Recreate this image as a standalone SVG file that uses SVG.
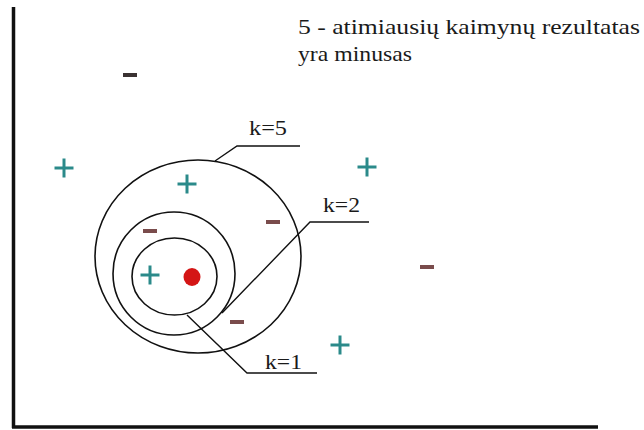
<svg xmlns="http://www.w3.org/2000/svg" width="644" height="430" viewBox="0 0 644 430">
<style>
  .ring { fill: none; stroke: #111; stroke-width: 1.6; }
  .lead { fill: none; stroke: #111; stroke-width: 1.4; }
  .axis { fill: none; stroke: #111; stroke-width: 3.5; }
  .plus { stroke: #2b8a8a; stroke-width: 3; fill: none; }
  .minus { fill: #7a4c4c; }
</style>
<defs>
  <g id="p"><line class="plus" x1="-9.5" y1="0" x2="9.5" y2="0"/><line class="plus" x1="0" y1="-9.5" x2="0" y2="9.5"/></g>
  <rect id="m" x="-7" y="-2" width="14" height="4"/>
</defs>
<rect width="644" height="430" fill="#ffffff"/>
<g id="axes">
  <line class="axis" x1="13.5" y1="7" x2="13.5" y2="428"/>
  <line class="axis" x1="12" y1="427" x2="598" y2="427"/>
</g>
<g id="title" font-family="Liberation Serif, DejaVu Serif, serif" font-size="22" fill="#1a1a1a">
  <text x="298" y="34" textLength="342" lengthAdjust="spacingAndGlyphs">5 - atimiausių kaimynų rezultatas</text>
  <text x="298" y="61" textLength="114" lengthAdjust="spacingAndGlyphs">yra minusas</text>
</g>
<g id="rings">
  <ellipse id="ring5" class="ring" cx="198" cy="256.5" rx="103" ry="96.5"/>
  <ellipse id="ring2" class="ring" cx="174" cy="273.5" rx="61" ry="61.5"/>
  <ellipse id="ring1" class="ring" cx="174.5" cy="276.5" rx="42.5" ry="38.5"/>
</g>
<g id="connectors">
  <polyline class="lead" points="215,161 237,146 300,146"/>
  <polyline class="lead" points="222,313 310,222 369,222"/>
  <polyline class="lead" points="187,315 247,373 317,373"/>
</g>
<g id="labels" font-family="Liberation Serif, DejaVu Serif, serif" font-size="22" fill="#1a1a1a">
  <text x="249" y="135" textLength="38" lengthAdjust="spacingAndGlyphs">k=5</text>
  <text x="323" y="212" textLength="37" lengthAdjust="spacingAndGlyphs">k=2</text>
  <text x="265" y="369" textLength="37" lengthAdjust="spacingAndGlyphs">k=1</text>
</g>
<g id="query"><ellipse cx="192" cy="277" rx="8.5" ry="9" fill="#d41515"/></g>
<g id="pluses">
  <use href="#p" x="64" y="168"/>
  <use href="#p" x="187" y="184"/>
  <use href="#p" x="367" y="167"/>
  <use href="#p" x="150" y="275"/>
  <use href="#p" x="340" y="345"/>
</g>
<g id="minuses">
  <use href="#m" x="130" y="75" fill="#3a3232"/>
  <use href="#m" x="150" y="231" class="minus"/>
  <use href="#m" x="273" y="222" class="minus"/>
  <use href="#m" x="237" y="322" class="minus"/>
  <use href="#m" x="427" y="267" class="minus"/>
</g>
</svg>
